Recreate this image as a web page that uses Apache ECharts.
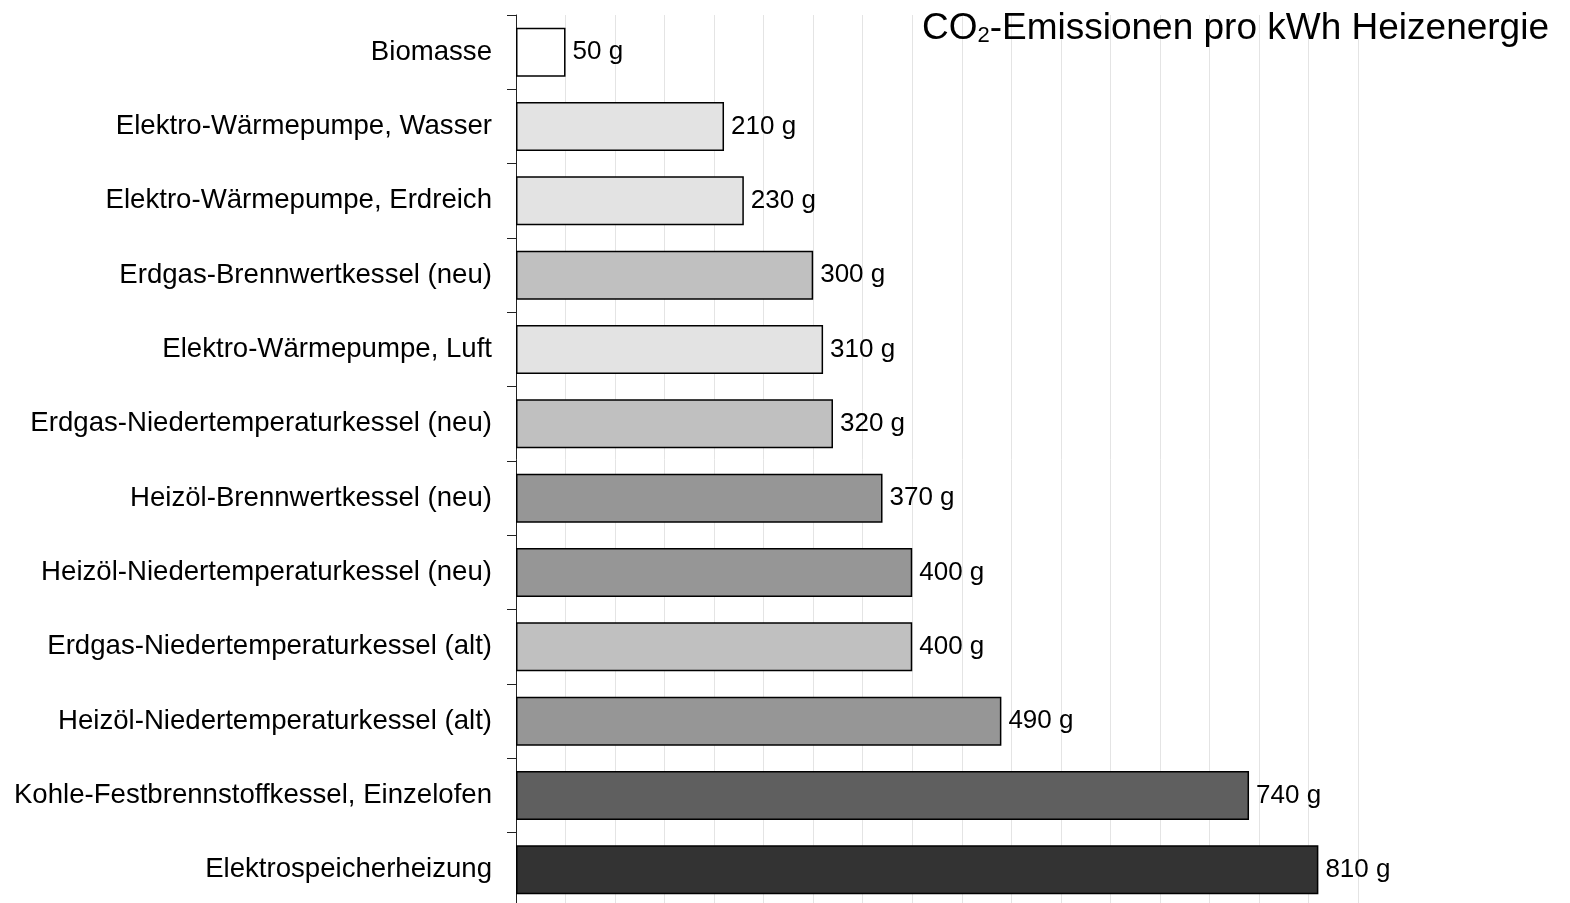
<!DOCTYPE html>
<html>
<head>
<meta charset="utf-8">
<script src="https://cdn.jsdelivr.net/npm/echarts@6/dist/echarts.min.js"></script>
<style>
  html, body { margin: 0; padding: 0; background: #fff; }
  #chart { width: 1570px; height: 903px; }
</style>
</head>
<body>
<div id="chart"></div>
<script>
// Heating systems, top to bottom
const categories = [
  'Biomasse',
  'Elektro-Wärmepumpe, Wasser',
  'Elektro-Wärmepumpe, Erdreich',
  'Erdgas-Brennwertkessel (neu)',
  'Elektro-Wärmepumpe, Luft',
  'Erdgas-Niedertemperaturkessel (neu)',
  'Heizöl-Brennwertkessel (neu)',
  'Heizöl-Niedertemperaturkessel (neu)',
  'Erdgas-Niedertemperaturkessel (alt)',
  'Heizöl-Niedertemperaturkessel (alt)',
  'Kohle-Festbrennstoffkessel, Einzelofen',
  'Elektrospeicherheizung'
];
// CO2 grams per kWh of heat
const emissions = [50, 210, 230, 300, 310, 320, 370, 400, 400, 490, 740, 810];
// Fill per energy carrier
const fills = ['#ffffff', '#e3e3e3', '#e3e3e3', '#c0c0c0', '#e3e3e3', '#c0c0c0',
               '#969696', '#969696', '#c0c0c0', '#969696', '#5f5f5f', '#333333'];

const chart = echarts.init(document.getElementById('chart'), null, { renderer: 'canvas' });
const font = '"Liberation Sans", Arial, sans-serif';

chart.setOption({
  animation: false,
  backgroundColor: '#ffffff',
  textStyle: { fontFamily: font },
  title: {
    right: 16,
    top: -2,
    text: '{a|CO}{b|2}{a|-Emissionen pro kWh Heizenergie}',
    textStyle: {
      fontWeight: 'normal',
      rich: {
        a: { fontSize: 37, fontFamily: font, fontWeight: 'normal', color: '#000', lineHeight: 44, verticalAlign: 'bottom' },
        b: { fontSize: 22, fontFamily: font, fontWeight: 'normal', color: '#000', lineHeight: 30, verticalAlign: 'bottom' }
      }
    }
  },
  grid: {
    left: 516,
    top: 15,
    width: 842,
    height: 892,
    containLabel: false,
    outerBoundsMode: 'none'
  },
  xAxis: {
    type: 'value',
    min: 0,
    max: 850,
    interval: 50,
    axisLine: { show: false },
    axisTick: { show: false },
    axisLabel: { show: false },
    splitLine: { show: true, lineStyle: { color: '#e4e4e4', width: 1 } }
  },
  yAxis: {
    type: 'category',
    data: categories,
    inverse: true,
    axisLine: { show: true, lineStyle: { color: '#222', width: 1 } },
    axisTick: { show: true, length: 9, lineStyle: { color: '#222', width: 1 } },
    axisLabel: { fontSize: 27.6, color: '#000', margin: 24, fontFamily: font }
  },
  series: [{
    type: 'bar',
    data: emissions.map((v, i) => ({ value: v, itemStyle: { color: fills[i] } })),
    barCategoryGap: '34%',
    itemStyle: { borderColor: '#000', borderWidth: 1.5 },
    label: {
      show: true,
      position: 'right',
      distance: 7,
      formatter: '{c} g',
      fontSize: 26,
      color: '#000',
      fontFamily: font
    }
  }]
});
</script>
</body>
</html>
